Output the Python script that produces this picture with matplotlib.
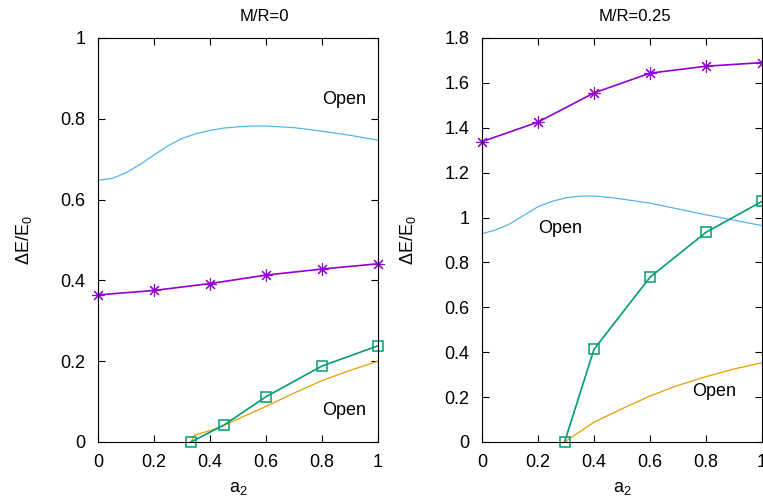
# -*- coding: utf-8 -*-
import numpy as np
import matplotlib
matplotlib.use('Agg')
import matplotlib.pyplot as plt
from matplotlib import rc
rc('font', **{'family': 'sans-serif', 'sans-serif': ['Liberation Sans', 'DejaVu Sans'], 'size': 13})
rc('mathtext', **{'default': 'regular'})
rc('xtick', direction='in', top=True)
rc('ytick', direction='in', right=True)
rc('xtick.major', size=5, width=0.8)
rc('ytick.major', size=5, width=0.8)

# ---------------- M/R = 0 ----------------
a2_pts = [0.0, 0.2, 0.4, 0.6, 0.8, 1.0]
star0 = [0.364, 0.375, 0.392, 0.413, 0.428, 0.441]

a2_sq0 = [0.332, 0.45, 0.6, 0.8, 1.0]
sq0 = [0.0, 0.042, 0.112, 0.188, 0.238]

a2_or0 = [0.332, 0.345, 0.4, 0.45, 0.5, 0.6, 0.7, 0.8, 0.9, 1.0]
or0 = [0.0, 0.017, 0.028, 0.041, 0.057, 0.088, 0.121, 0.152, 0.177, 0.200]

a2_bl = [0.0, 0.05, 0.1, 0.15, 0.2, 0.25, 0.3, 0.35, 0.4, 0.45, 0.5, 0.55, 0.6, 0.7, 0.8, 0.9, 1.0]
bl0 = [0.648, 0.652, 0.666, 0.687, 0.710, 0.733, 0.751, 0.763, 0.771, 0.777, 0.780, 0.782, 0.782, 0.778, 0.769, 0.759, 0.747]

# ---------------- M/R = 0.25 ----------------
star1 = [1.338, 1.425, 1.555, 1.643, 1.674, 1.690]

a2_sq1 = [0.295, 0.4, 0.6, 0.8, 1.0]
sq1 = [0.0, 0.413, 0.734, 0.934, 1.072]

a2_or1 = [0.295, 0.4, 0.5, 0.6, 0.7, 0.8, 0.9, 1.0]
or1 = [0.0, 0.088, 0.148, 0.205, 0.252, 0.291, 0.325, 0.353]

bl1 = [0.928, 0.945, 0.972, 1.010, 1.048, 1.072, 1.088, 1.095, 1.096, 1.090, 1.082, 1.073, 1.064, 1.038, 1.012, 0.988, 0.964]

titles = ["M/R=0", "M/R=0.25"]
ylims = [1.0, 1.8]
yticks = [np.arange(0, 1.01, 0.2), np.arange(0, 1.81, 0.2)]
open_pos = [[(0.88, 0.847), (0.88, 0.079)], [(0.28, 0.95), (0.83, 0.223)]]
title_x = [0.596, 0.546]

c_star = '#9400D3'
c_sq = '#009E73'
c_or = '#E69F00'
c_bl = '#56B4E9'

fig = plt.figure(figsize=(7.63, 4.97), dpi=100)
axes = [fig.add_axes([0.1284, 0.1107, 0.367, 0.813]),
        fig.add_axes([0.6317, 0.1107, 0.367, 0.813])]

data = [(star0, a2_sq0, sq0, a2_or0, or0, bl0),
        (star1, a2_sq1, sq1, a2_or1, or1, bl1)]

for k, ax in enumerate(axes):
    st, xs, sq, xo, oo, bb = data[k]
    ax.plot(a2_bl, bb, color=c_bl, lw=0.9, clip_on=False)
    ax.plot(xo, oo, color=c_or, lw=0.9, clip_on=False)
    ax.plot(xs, sq, color=c_sq, lw=1.2, marker='s', ms=7, mfc='none', mec=c_sq, mew=1.1, clip_on=False)
    ax.plot(a2_pts, st, color=c_star, lw=1.2, marker=(8, 2, 0), ms=9, mew=0.8, clip_on=False)
    for (px, py) in open_pos[k]:
        ax.text(px, py, 'Open', ha='center', va='center', fontsize=13)
    ax.set_xlim(0, 1)
    ax.set_ylim(0, ylims[k])
    ax.set_xticks([0, 0.2, 0.4, 0.6, 0.8, 1.0])
    ax.set_xticklabels(['0', '0.2', '0.4', '0.6', '0.8', '1'])
    ax.set_yticks(yticks[k])
    ax.set_yticklabels(['{:g}'.format(round(v, 1)) for v in yticks[k]])
    ax.tick_params(axis='x', pad=9)
    ax.tick_params(axis='y', pad=9)
    ax.set_xlabel('$a_2$', fontsize=13, labelpad=6)
    ax.set_ylabel(r'$\Delta E/E_0$', fontsize=13, labelpad=19)
    ax.text(title_x[k], 1.052, titles[k], transform=ax.transAxes, ha='center', va='center', fontsize=12)

plt.savefig('out.png', dpi=100)
